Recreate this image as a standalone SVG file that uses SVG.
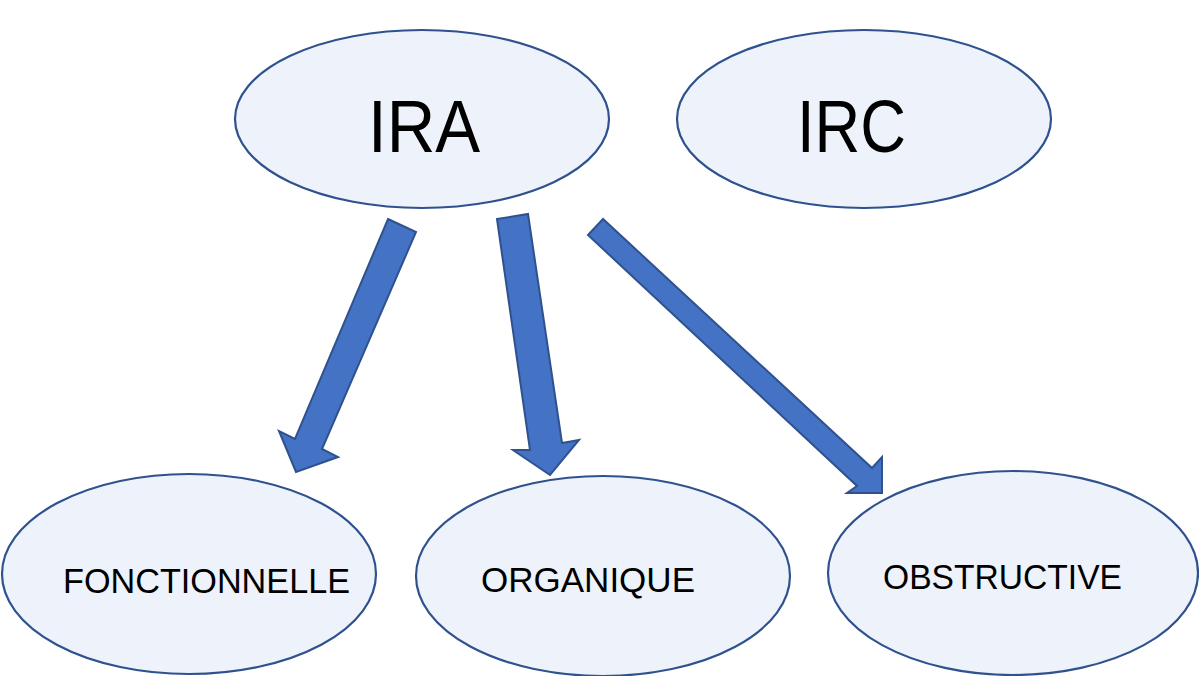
<svg xmlns="http://www.w3.org/2000/svg" width="1199" height="676" viewBox="0 0 1199 676">
<style>
.node ellipse{fill:#EEF2FA;stroke:#2F528F;stroke-width:2.2}
.big{font-family:"Liberation Sans",Arial,sans-serif;font-size:74px;fill:#000}
.small{font-family:"Liberation Sans",Arial,sans-serif;font-size:35px;fill:#000}
.arrow{fill:#4472C4;stroke:#2F528F;stroke-width:2;stroke-linejoin:miter}
</style>
<rect width="1199" height="676" fill="#fff"/>
<g id="IRA" class="node"><ellipse cx="422" cy="119" rx="187" ry="89"/><text class="big" x="368" y="152" textLength="112" lengthAdjust="spacingAndGlyphs">IRA</text></g>
<g id="IRC" class="node"><ellipse cx="864" cy="119" rx="187" ry="89"/><text class="big" x="797" y="152" textLength="109" lengthAdjust="spacingAndGlyphs">IRC</text></g>
<g id="FONCTIONNELLE" class="node"><ellipse cx="189" cy="574" rx="187" ry="100"/><text class="small" x="63" y="593" textLength="287" lengthAdjust="spacingAndGlyphs">FONCTIONNELLE</text></g>
<g id="ORGANIQUE" class="node"><ellipse cx="603" cy="576" rx="187" ry="100"/><text class="small" x="481" y="592" textLength="214" lengthAdjust="spacingAndGlyphs">ORGANIQUE</text></g>
<g id="OBSTRUCTIVE" class="node"><ellipse cx="1013" cy="573" rx="185" ry="102"/><text class="small" x="883" y="589" textLength="239" lengthAdjust="spacingAndGlyphs">OBSTRUCTIVE</text></g>
<g id="connectors">
<polygon class="arrow" points="388,219 416,232 322,449 338,457 296,472 279,431 295,439"/>
<polygon class="arrow" points="497,219 528,214 562,443 579,440 550,475 513,450 530,450"/>
<polygon class="arrow" points="603,219 588,235 857,486 847,493 882,493 882,457 872,468"/>
</g>
</svg>
